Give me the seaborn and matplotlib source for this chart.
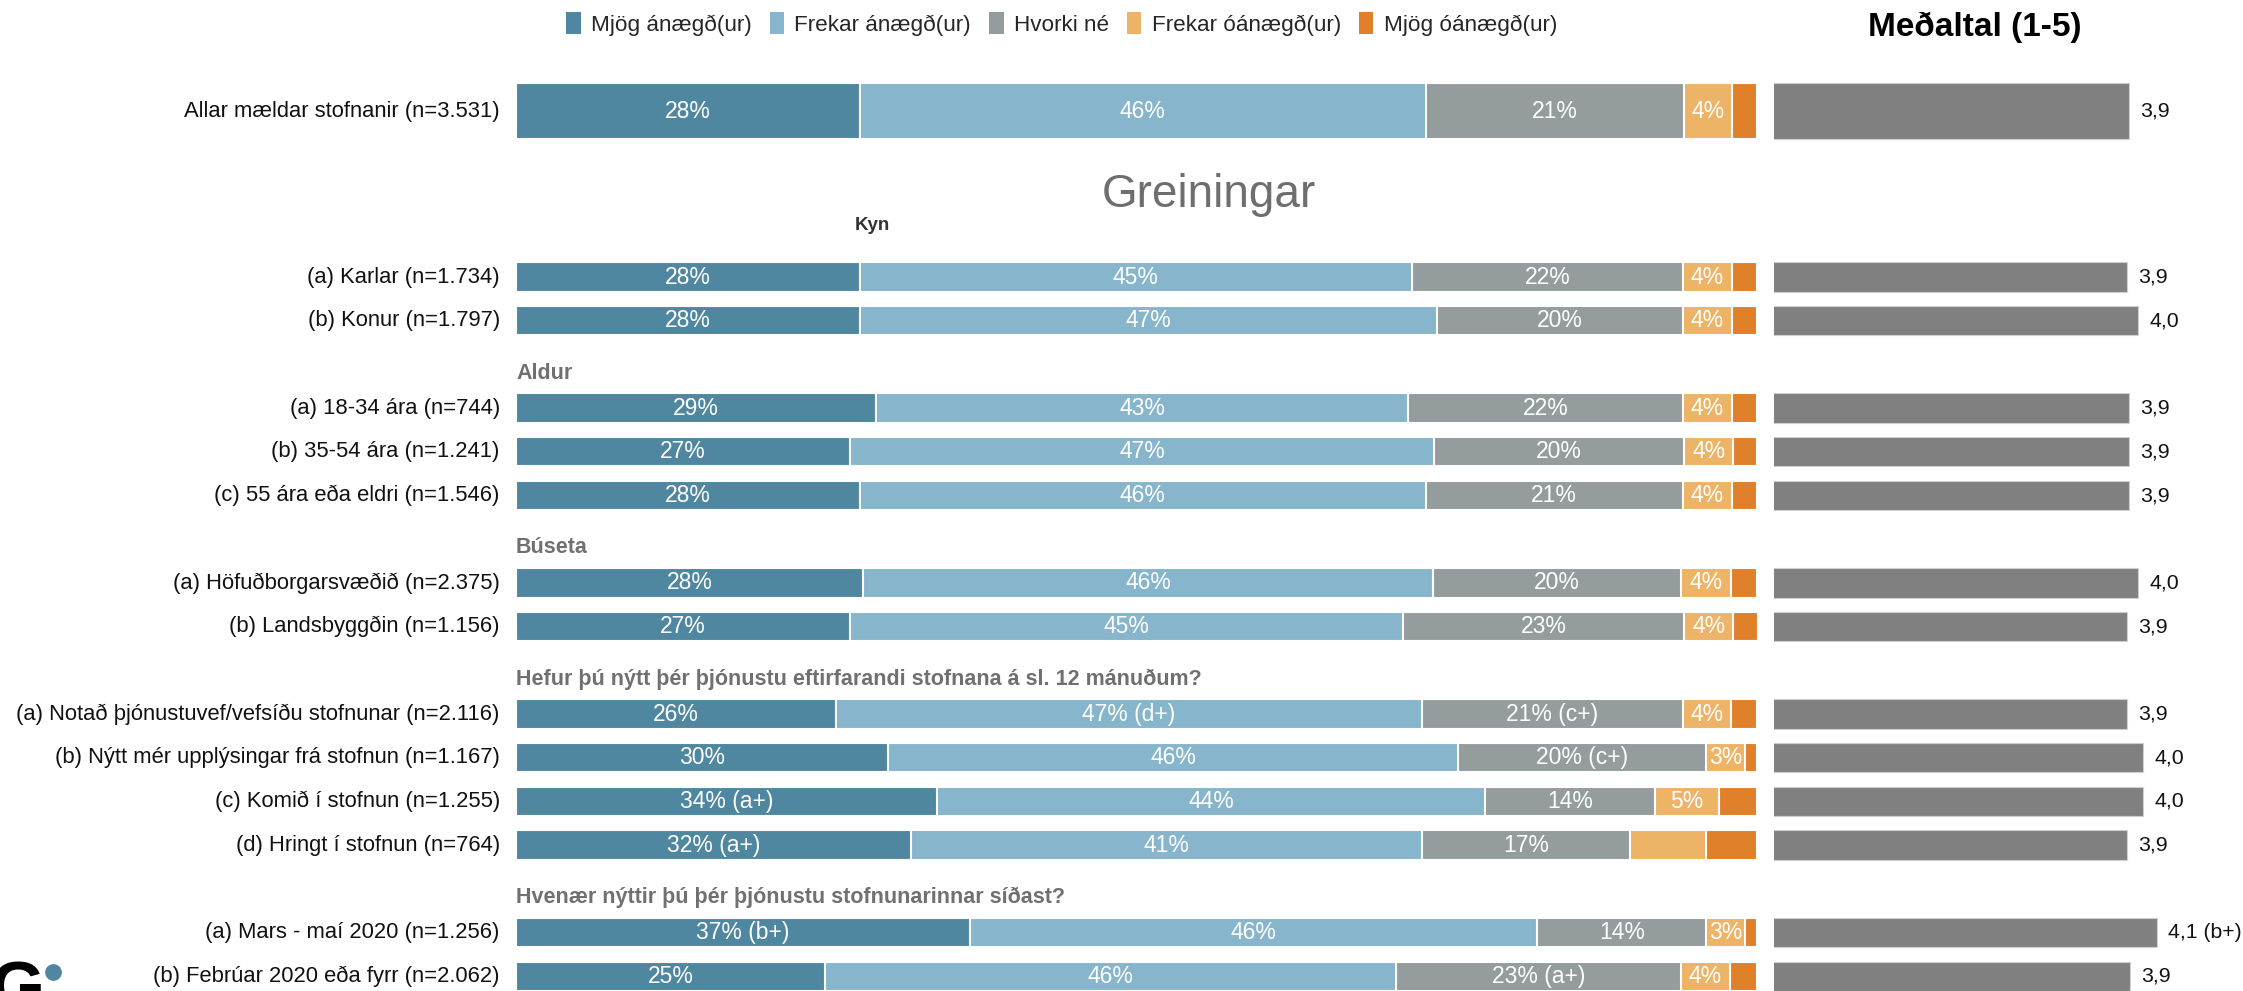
import numpy as np
import pandas as pd
import matplotlib
matplotlib.use("Agg")
import matplotlib.pyplot as plt
from matplotlib.patches import Patch
from matplotlib.lines import Line2D
import seaborn as sns

# --- data ---------------------------------------------------------------
CATEGORIES = ["Mjög ánægð(ur)", "Frekar ánægð(ur)", "Hvorki né",
              "Frekar óánægð(ur)", "Mjög óánægð(ur)"]
COLORS = ["#4f87a0", "#87b5cb", "#959c9e", "#edb366", "#e1802b"]
MEAN_COLOR = "#808080"

total_label = "Allar mældar stofnanir (n=3.531)"
total_pct = [27.7, 45.6, 20.8, 3.9, 2.0]
total_txt = ["28%", "46%", "21%", "4%", ""]
total_mean = 3.90

group_titles = ["Kyn", "Aldur", "Búseta",
                "Hefur þú nýtt þér þjónustu eftirfarandi stofnana á sl. 12 mánuðum?",
                "Hvenær nýttir þú þér þjónustu stofnunarinnar síðast?"]
group_sizes = [2, 3, 2, 4, 2]

row_labels = [
    "(a) Karlar (n=1.734)",
    "(b) Konur (n=1.797)",
    "(a) 18-34 ára (n=744)",
    "(b) 35-54 ára (n=1.241)",
    "(c) 55 ára eða eldri (n=1.546)",
    "(a) Höfuðborgarsvæðið (n=2.375)",
    "(b) Landsbyggðin (n=1.156)",
    "(a) Notað þjónustuvef/vefsíðu stofnunar (n=2.116)",
    "(b) Nýtt mér upplýsingar frá stofnun (n=1.167)",
    "(c) Komið í stofnun (n=1.255)",
    "(d) Hringt í stofnun (n=764)",
    "(a) Mars - maí 2020 (n=1.256)",
    "(b) Febrúar 2020 eða fyrr (n=2.062)",
]

mjog_an = [27.7, 27.7, 29.0, 26.9, 27.7, 28.0, 26.9, 25.8, 30.0, 33.9, 31.8, 36.6, 24.9]
frekar_an = [44.5, 46.5, 42.9, 47.1, 45.6, 45.9, 44.6, 47.2, 45.9, 44.2, 41.2, 45.7, 46.0]
hvorki = [21.8, 19.8, 22.1, 20.1, 20.7, 20.0, 22.6, 21.0, 20.0, 13.7, 16.8, 13.6, 23.0]
frekar_oa = [4.0, 4.0, 4.0, 4.0, 4.0, 4.0, 4.0, 3.9, 3.1, 5.1, 6.1, 3.1, 3.9]
mjog_oa = [2.0, 2.0, 2.0, 1.9, 2.0, 2.1, 2.0, 2.1, 1.0, 3.1, 4.1, 1.0, 2.2]

mjog_an_txt = ["28%", "28%", "29%", "27%", "28%", "28%", "27%", "26%", "30%",
               "34% (a+)", "32% (a+)", "37% (b+)", "25%"]
frekar_an_txt = ["45%", "47%", "43%", "47%", "46%", "46%", "45%", "47% (d+)", "46%",
                 "44%", "41%", "46%", "46%"]
hvorki_txt = ["22%", "20%", "22%", "20%", "21%", "20%", "23%", "21% (c+)", "20% (c+)",
              "14%", "17%", "14%", "23% (a+)"]
frekar_oa_txt = ["4%", "4%", "4%", "4%", "4%", "4%", "4%", "4%", "3%", "5%", "", "3%", "4%"]
mjog_oa_txt = [""] * 13

means = [3.89, 3.98, 3.90, 3.90, 3.90, 3.98, 3.89, 3.89, 4.02, 4.02, 3.89, 4.13, 3.91]
mean_sig = [""] * 11 + [" (b+)", ""]

# --- layout ---------------------------------------------------------------
W, H = 2243, 991
ROW0_PX, STEP_PX = 277, 43.7          # first group row centre and row pitch
MEAN_PX_PER_UNIT = 122.3
LABEL_FS = 15.8
MEAN_FS = 15.3
BAR_FS = 16.5


def px_to_slot(p):
    return (p - ROW0_PX) / STEP_PX


slots, header_slots = [], []
s = 0
for gi, n in enumerate(group_sizes):
    if gi > 0:
        header_slots.append(s)
        s += 1
    slots.extend(range(s, s + n))
    s += n
slots = np.array(slots, dtype=float)
total_slot = px_to_slot(111)

sns.set_theme(style="white")
plt.rcParams["font.family"] = ["Liberation Sans", "DejaVu Sans"]

fig = plt.figure(figsize=(W / 100, H / 100), dpi=100)
fig.patch.set_facecolor("white")

ax = fig.add_axes([516 / W, 0, 1241 / W, 1])
x0m = 1774
ax2 = fig.add_axes([x0m / W, 0, (W - x0m) / W, 1])

series = [mjog_an, frekar_an, hvorki, frekar_oa, mjog_oa]
texts = [mjog_an_txt, frekar_an_txt, hvorki_txt, frekar_oa_txt, mjog_oa_txt]

df = pd.DataFrame({"slot": slots})
for k, cat in enumerate(CATEGORIES):
    df[cat] = series[k]
cum = df[CATEGORIES].cumsum(axis=1)

tot = pd.DataFrame({"slot": [total_slot]})
for k, cat in enumerate(CATEGORIES):
    tot[cat] = [total_pct[k]]
tot_cum = tot[CATEGORIES].cumsum(axis=1)

# stacked bars: draw cumulative totals from the right, shorter on top
for k in range(len(CATEGORIES) - 1, -1, -1):
    cat = CATEGORIES[k]
    sns.barplot(x=cum[cat], y=df["slot"], orient="h", native_scale=True,
                color=COLORS[k], saturation=1, width=0.67, errorbar=None,
                edgecolor="white", linewidth=1.5, ax=ax)
    sns.barplot(x=tot_cum[cat], y=tot["slot"], orient="h", native_scale=True,
                color=COLORS[k], saturation=1, width=1.3, errorbar=None,
                edgecolor="white", linewidth=1.5, ax=ax)

# labels inside segments
for k in range(len(CATEGORIES)):
    left = cum[CATEGORIES[k]] - df[CATEGORIES[k]]
    for i, y in enumerate(slots):
        if texts[k][i]:
            ax.text(left.iloc[i] + series[k][i] / 2, y, texts[k][i], ha="center",
                    va="center", color="white", fontsize=BAR_FS)
    if total_txt[k]:
        tl = tot_cum[CATEGORIES[k]].iloc[0] - total_pct[k]
        ax.text(tl + total_pct[k] / 2, total_slot, total_txt[k], ha="center",
                va="center", color="white", fontsize=BAR_FS)

# row labels
for lab, y in zip(row_labels, slots):
    ax.text(-1.3, y, lab, ha="right", va="center", fontsize=LABEL_FS, color="#111111")
ax.text(-1.3, total_slot, total_label, ha="right", va="center", fontsize=LABEL_FS,
        color="#111111")

# group headers
ax.text(55.8, px_to_slot(195), "Greiningar", ha="center", va="center",
        fontsize=33, color="#6e6e6e")
ax.text(28.7, px_to_slot(225), group_titles[0], ha="center", va="center",
        fontsize=13.5, fontweight="bold", color="#333333")
for title, hs in zip(group_titles[1:], header_slots):
    ax.text(0, hs + 0.2, title, ha="left", va="center", fontsize=15.5,
            fontweight="bold", color="#707070")

ax.set_xlim(0, 100)
ax.set_ylim(px_to_slot(H), px_to_slot(0))
ax.axis("off")

# mean bars (scale 1-5)
mdf = pd.DataFrame({"slot": slots, "mean": means})
sns.barplot(x=mdf["mean"], y=mdf["slot"], orient="h", native_scale=True,
            color=MEAN_COLOR, saturation=1, width=0.67, errorbar=None,
            edgecolor="#cfcfcf", linewidth=0.8, ax=ax2)
sns.barplot(x=[total_mean], y=[total_slot], orient="h", native_scale=True,
            color=MEAN_COLOR, saturation=1, width=1.3, errorbar=None,
            edgecolor="#cfcfcf", linewidth=0.8, ax=ax2)
for m, sig, y in zip(means, mean_sig, slots):
    ax2.text(m + 0.09, y, f"{m:.1f}".replace(".", ",") + sig, ha="left",
             va="center", fontsize=MEAN_FS, color="#111111")
ax2.text(total_mean + 0.09, total_slot, f"{total_mean:.1f}".replace(".", ","),
         ha="left", va="center", fontsize=MEAN_FS, color="#111111")
ax2.set_xlim(1, 1 + (W - x0m) / MEAN_PX_PER_UNIT)
ax2.set_ylim(px_to_slot(H), px_to_slot(0))
ax2.axis("off")

# legend and mean title
handles = [Patch(facecolor=c, edgecolor="none") for c in COLORS]
fig.legend(handles, CATEGORIES, loc="center left",
           bbox_to_anchor=(566 / W, 1 - 24 / H), ncol=5, frameon=False,
           fontsize=16.2, handlelength=0.65, handleheight=1.15,
           handletextpad=0.45, columnspacing=0.8, borderpad=0, borderaxespad=0)
fig.text(1868 / W, 1 - 27 / H, "Meðaltal (1-5)", ha="left", va="center",
         fontsize=24, fontweight="bold", color="black")

# logo in the corner
fig.text(-10 / W, 1 - 960 / H, "G", ha="left", va="top", fontsize=50,
         fontweight="bold", color="black")
fig.add_artist(Line2D([53 / W], [1 - 972 / H], marker="o", markersize=11,
                      color="#4f87a0", transform=fig.transFigure))

fig.savefig("out.png", dpi=100)
